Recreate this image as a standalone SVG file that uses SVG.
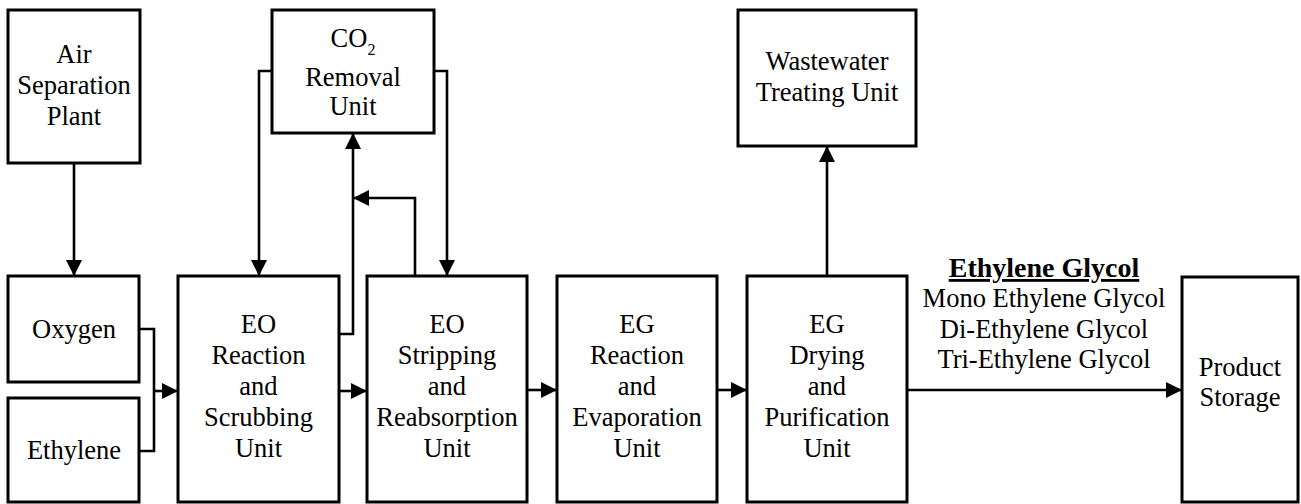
<svg xmlns="http://www.w3.org/2000/svg" width="1301" height="504" viewBox="0 0 1301 504">
<style>
.box{fill:#fff;stroke:#000;stroke-width:3}
.ln{fill:none;stroke:#000;stroke-width:2.6}
.t{font-family:"Liberation Serif","Times New Roman",serif;font-size:26.5px;text-anchor:middle;fill:#000}
.b{font-weight:bold;font-size:28px;text-decoration:underline}
</style>
<defs>
<marker id="ah" markerUnits="userSpaceOnUse" markerWidth="16" markerHeight="16" viewBox="0 0 15 15" refX="15" refY="7.5" orient="auto">
<path d="M0,0 L15,7.5 L0,15 z" fill="#000"/>
</marker>
</defs>
<rect width="1301" height="504" fill="#fff"/>
<g id="connectors">
<path class="ln" d="M74,163 V276" marker-end="url(#ah)"/>
<path class="ln" d="M139,329 H154 V451 H139"/>
<path class="ln" d="M154,391 H178" marker-end="url(#ah)"/>
<path class="ln" d="M272,71 H259 V276" marker-end="url(#ah)"/>
<path class="ln" d="M434,71 H447 V276" marker-end="url(#ah)"/>
<path class="ln" d="M339,334 H353 V133" marker-end="url(#ah)"/>
<path class="ln" d="M415,276 V198 H353" marker-end="url(#ah)"/>
<path class="ln" d="M339,391 H367" marker-end="url(#ah)"/>
<path class="ln" d="M527,390 H557" marker-end="url(#ah)"/>
<path class="ln" d="M717,390 H747" marker-end="url(#ah)"/>
<path class="ln" d="M827,276 V146" marker-end="url(#ah)"/>
<path class="ln" d="M907,390 H1182" marker-end="url(#ah)"/>
</g>
<g id="air-separation">
<rect class="box" x="8" y="10" width="132" height="153"/>
<text class="t" x="74" y="63">Air</text>
<text class="t" x="74" y="94">Separation</text>
<text class="t" x="74" y="125">Plant</text>
</g>
<g id="co2-removal">
<rect class="box" x="272" y="10" width="162" height="123"/>
<text class="t" x="353" y="47">CO<tspan font-size="16" dy="8">2</tspan></text>
<text class="t" x="353" y="86">Removal</text>
<text class="t" x="353" y="115">Unit</text>
</g>
<g id="wastewater">
<rect class="box" x="738" y="10" width="178" height="136"/>
<text class="t" x="827" y="70">Wastewater</text>
<text class="t" x="827" y="101">Treating Unit</text>
</g>
<g id="oxygen">
<rect class="box" x="8" y="276" width="131" height="106"/>
<text class="t" x="74" y="338">Oxygen</text>
</g>
<g id="ethylene">
<rect class="box" x="8" y="398" width="131" height="104"/>
<text class="t" x="74" y="459">Ethylene</text>
</g>
<g id="eo-reaction">
<rect class="box" x="178" y="276" width="161" height="226"/>
<text class="t" x="258.5" y="333">EO</text>
<text class="t" x="258.5" y="364">Reaction</text>
<text class="t" x="258.5" y="395">and</text>
<text class="t" x="258.5" y="426">Scrubbing</text>
<text class="t" x="258.5" y="457">Unit</text>
</g>
<g id="eo-stripping">
<rect class="box" x="367" y="276" width="160" height="226"/>
<text class="t" x="447" y="333">EO</text>
<text class="t" x="447" y="364">Stripping</text>
<text class="t" x="447" y="395">and</text>
<text class="t" x="447" y="426">Reabsorption</text>
<text class="t" x="447" y="457">Unit</text>
</g>
<g id="eg-reaction">
<rect class="box" x="557" y="276" width="160" height="226"/>
<text class="t" x="637" y="333">EG</text>
<text class="t" x="637" y="364">Reaction</text>
<text class="t" x="637" y="395">and</text>
<text class="t" x="637" y="426">Evaporation</text>
<text class="t" x="637" y="457">Unit</text>
</g>
<g id="eg-drying">
<rect class="box" x="747" y="276" width="160" height="226"/>
<text class="t" x="827" y="333">EG</text>
<text class="t" x="827" y="364">Drying</text>
<text class="t" x="827" y="395">and</text>
<text class="t" x="827" y="426">Purification</text>
<text class="t" x="827" y="457">Unit</text>
</g>
<g id="product-storage">
<rect class="box" x="1182" y="277" width="116" height="225"/>
<text class="t" x="1240" y="376">Product</text>
<text class="t" x="1240" y="406">Storage</text>
</g>
<g id="eg-label">
<text class="t b" x="1044" y="277">Ethylene Glycol</text>
<text class="t" x="1044" y="307">Mono Ethylene Glycol</text>
<text class="t" x="1044" y="338">Di-Ethylene Glycol</text>
<text class="t" x="1044" y="368">Tri-Ethylene Glycol</text>
</g>
</svg>
